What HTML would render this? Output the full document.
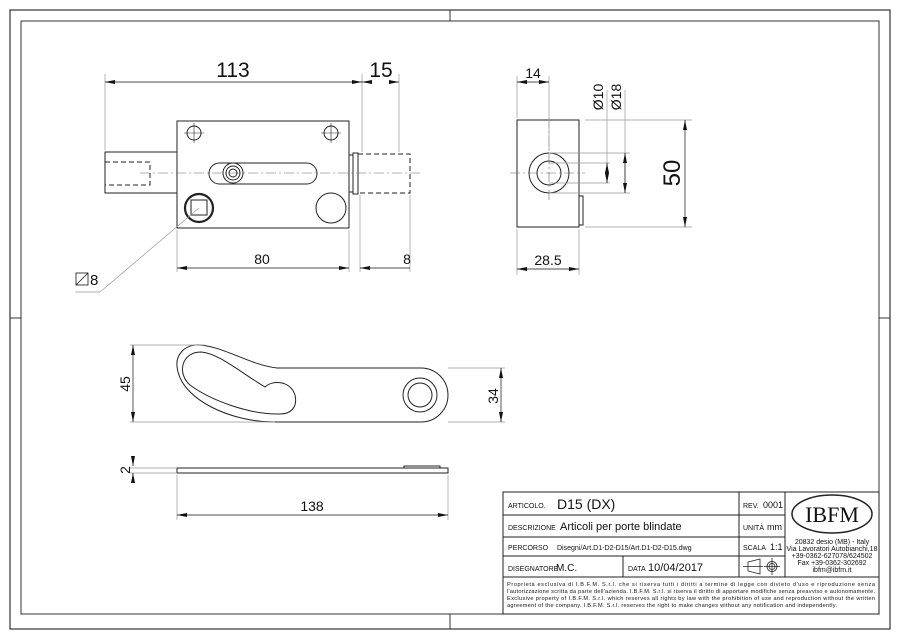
<!DOCTYPE html>
<html><head><meta charset="utf-8"><style>
html,body{margin:0;padding:0;background:#fff;}
svg{display:block;}
text{font-family:"Liberation Sans",sans-serif;fill:#111;}
text.serif{font-family:"Liberation Serif",serif;}
</style></head><body>
<svg width="900" height="636" viewBox="0 0 900 636" xmlns="http://www.w3.org/2000/svg">
<defs>
<marker id="a" viewBox="0 0 10 4" refX="10" refY="2" markerWidth="10" markerHeight="4" orient="auto-start-reverse" markerUnits="userSpaceOnUse"><path d="M0,0 L10,2 L0,4 Z" fill="#111"/></marker>
</defs>
<g fill="none" stroke="#333">
<rect x="10" y="10" width="880" height="619" stroke-width="1.2"/>
<rect x="21" y="21" width="858" height="593" stroke-width="1"/>
<path d="M450 10V21M450 614V629M10 318H21M879 318H890" stroke-width="1"/>
</g>
<!-- front view -->
<g fill="none" stroke="#222" stroke-width="1">
<rect x="177" y="121" width="172" height="107"/>
<rect x="105" y="152" width="72" height="41"/>
<path d="M105 162H150V185H105" stroke-dasharray="5,3"/>
<rect x="349" y="155" width="4" height="37"/>
<rect x="353" y="153" width="5" height="41"/>
<path d="M358 154H410V193H358" stroke-dasharray="5,3"/>
<path d="M140 173H420" stroke="#666" stroke-width="0.6" stroke-dasharray="10,3,2,3"/>
<rect x="209" y="163" width="108" height="21" rx="10.5"/>
<circle cx="233" cy="173" r="10"/><circle cx="233" cy="173" r="7"/><circle cx="233" cy="173" r="4"/>
<circle cx="194" cy="133" r="7"/><circle cx="331" cy="133" r="7"/>
<path d="M184 133H204M194 123V143M321 133H341M331 123V143" stroke-width="0.6"/>
<circle cx="199" cy="208" r="14" stroke-width="2.2"/>
<rect x="191" y="200" width="16" height="15"/>
<circle cx="331" cy="208" r="15"/>
</g>
<g fill="none" stroke="#999" stroke-width="0.7">
<path d="M105 150V74M362 152V74M399 152V74"/>
<path d="M177 230V272M349 230V272M360 195V272M410 195V272"/>
<path d="M199 208L100 292M75 292H100"/>
</g>
<g stroke="#111" stroke-width="0.7">
<path d="M105 82H362" marker-start="url(#a)" marker-end="url(#a)"/>
<path d="M362 82H372" marker-start="url(#a)"/><path d="M389 82H399" marker-end="url(#a)"/>
<path d="M177 268H349" marker-start="url(#a)" marker-end="url(#a)"/>
<path d="M360 268H410" marker-start="url(#a)"/>
</g>
<text x="233" y="77" font-size="21" text-anchor="middle">113</text>
<text x="381" y="77" font-size="21" text-anchor="middle">15</text>
<text x="262" y="264" font-size="14" text-anchor="middle">80</text>
<text x="407" y="264" font-size="14" text-anchor="middle">8</text>
<rect x="76" y="273" width="12" height="12" fill="none" stroke="#111" stroke-width="0.8"/>
<path d="M76 285L88 273" stroke="#111" stroke-width="0.8"/>
<text x="90" y="285" font-size="15">8</text>
<!-- side view -->
<g fill="none" stroke="#222" stroke-width="1">
<rect x="517" y="120" width="62" height="107"/>
<rect x="579" y="196" width="4" height="29"/>
<circle cx="549" cy="173" r="20"/><circle cx="549" cy="173" r="12"/>
<path d="M510 173H585M549 118V200" stroke="#666" stroke-width="0.6" stroke-dasharray="10,3,2,3"/>
</g>
<g fill="none" stroke="#999" stroke-width="0.7">
<path d="M517 118V76M549 150V76M517 229V275M579 229V275"/>
<path d="M549 163H610M549 183H610M549 153H630M549 193H630M607 90V183M625 90V193"/>
<path d="M585 120H692M585 227H692"/>
</g>
<g stroke="#111" stroke-width="0.7">
<path d="M517 82H549" marker-start="url(#a)" marker-end="url(#a)"/>
<path d="M607 163V183" marker-start="url(#a)" marker-end="url(#a)"/>
<path d="M625 153V193" marker-start="url(#a)" marker-end="url(#a)"/>
<path d="M685 120V227" marker-start="url(#a)" marker-end="url(#a)"/>
<path d="M517 269H579" marker-start="url(#a)" marker-end="url(#a)"/>
</g>
<text x="533" y="78" font-size="14" text-anchor="middle">14</text>
<text x="548" y="265" font-size="14" text-anchor="middle">28.5</text>
<text transform="translate(603,97) rotate(-90)" font-size="14" text-anchor="middle">Ø10</text>
<text transform="translate(621,97) rotate(-90)" font-size="14" text-anchor="middle">Ø18</text>
<text transform="translate(680,173) rotate(-90)" font-size="24" text-anchor="middle">50</text>
<!-- handle -->
<g fill="none" stroke="#222" stroke-width="1">
<path d="M277 368L421 368A27 27 0 0 1 421 422L275 422C230 422 185 400 178 372C173 354 186 344 200 345C225 347 250 365 277 368Z"/>
<path d="M201 352C218 353 240 372 265 387C272 380 290 380 295 395C298 408 290 414 280 414C250 415 210 400 190 385C177 374 181 352 201 352Z"/>
<circle cx="420" cy="395" r="17"/><circle cx="420" cy="395" r="12"/>
<rect x="177" y="468" width="271" height="5"/>
<rect x="404" y="466" width="36" height="2"/>
</g>
<g fill="none" stroke="#999" stroke-width="0.7">
<path d="M130 345H205M130 422H275M448 368H505M448 422H505M130 468H177M130 473H177M177 475V520M448 475V520"/>
</g>
<g stroke="#111" stroke-width="0.7">
<path d="M133 345V422" marker-start="url(#a)" marker-end="url(#a)"/>
<path d="M501 368V422" marker-start="url(#a)" marker-end="url(#a)"/>
<path d="M133 456V466" marker-end="url(#a)"/><path d="M133 482V473" marker-end="url(#a)"/>
<path d="M177 515H448" marker-start="url(#a)" marker-end="url(#a)"/>
</g>
<text transform="translate(130,384) rotate(-90)" font-size="14" text-anchor="middle">45</text>
<text transform="translate(498,396) rotate(-90)" font-size="14" text-anchor="middle">34</text>
<text transform="translate(130,470) rotate(-90)" font-size="14" text-anchor="middle">2</text>
<text x="312" y="511" font-size="14" text-anchor="middle">138</text>
<!-- title block -->
<g fill="none" stroke="#222" stroke-width="1">
<rect x="503" y="492" width="376" height="122"/>
<path d="M503 515H785M503 537H785M503 556H785M503 577H879M739 492V577M785 492V577M623 556V577"/>
</g>
<g font-size="7">
<text x="508" y="508">ARTICOLO.</text>
<text x="508" y="530">DESCRIZIONE</text>
<text x="508" y="550">PERCORSO</text>
<text x="508" y="571">DISEGNATORE</text>
<text x="628" y="571">DATA</text>
<text x="743" y="508">REV.</text>
<text x="743" y="530">UNITÀ</text>
<text x="743" y="550">SCALA</text>
</g>
<text x="557" y="509" font-size="14">D15 (DX)</text>
<text x="560" y="530" font-size="11">Articoli per porte blindate</text>
<text x="557" y="550" font-size="7">Disegni/Art.D1-D2-D15/Art.D1-D2-D15.dwg</text>
<text x="556" y="571" font-size="10">M.C.</text>
<text x="648" y="571" font-size="11">10/04/2017</text>
<text x="763" y="508" font-size="9">0001</text>
<text x="767" y="530" font-size="9">mm</text>
<text x="770" y="550" font-size="9">1:1</text>
<g fill="none" stroke="#222" stroke-width="0.8">
<path d="M748 562L760 559V574L748 571ZM743 566.5H763"/>
<circle cx="772" cy="566.5" r="5"/><circle cx="772" cy="566.5" r="3"/><path d="M764 566.5H780M772 558V575"/>
<ellipse cx="832" cy="514" rx="40" ry="19" stroke-width="1.5"/>
</g>
<text class="serif" x="832" y="522" font-size="22" text-anchor="middle">IBFM</text>
<g font-size="7" text-anchor="middle">
<text x="832" y="544">20832 desio (MB) - Italy</text>
<text x="832" y="551">Via Lavoratori Autobianchi,18</text>
<text x="832" y="558">+39-0362-627078/624502</text>
<text x="832" y="565">Fax +39-0362-302692</text>
<text x="832" y="572">ibfm@ibfm.it</text>
</g>
<g font-size="5.6">
<text x="507" y="586" textLength="368">Proprietà esclusiva di I.B.F.M. S.r.l. che si riserva tutti i diritti a termine di legge con divieto d'uso e riproduzione senza</text>
<text x="507" y="593" textLength="368">l'autorizzazione scritta da parte dell'azienda. I.B.F.M. S.r.l. si riserva il diritto di apportare modifiche senza preavviso e autonomamente.</text>
<text x="507" y="600" textLength="368">Exclusive property of I.B.F.M. S.r.l. which reserves all rights by law with the prohibition of use and reproduction without the written</text>
<text x="507" y="607" textLength="330">agreement of the company. I.B.F.M. S.r.l. reserves the right to make changes without any notification and independently.</text>
</g>
</svg>
</body></html>
